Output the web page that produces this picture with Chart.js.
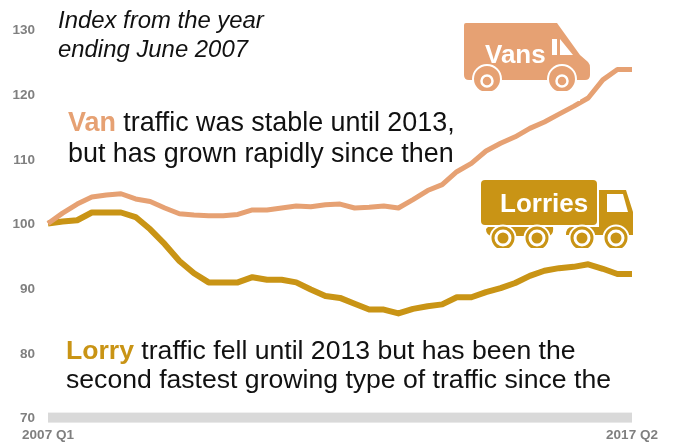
<!DOCTYPE html>
<html>
<head>
<meta charset="utf-8">
<title>Van and lorry traffic</title>
<script src="https://cdn.jsdelivr.net/npm/chart.js@4"></script>
<style>
  html, body { margin: 0; padding: 0; background: #fff; }
  #wrap { position: relative; width: 674px; height: 443px; overflow: hidden; }
  #notes { position: absolute; left: 0; top: 0; pointer-events: none; font-family: "Liberation Sans", Arial, sans-serif; }
  .van-note { font-size: 26.9px; fill: #111; }
  .lorry-note { font-size: 26.6px; fill: #111; }
</style>
</head>
<body>
<div id="wrap">
  <canvas id="traffic" width="674" height="443"></canvas>
  <svg id="notes" width="674" height="443">
    <text x="58" y="28" font-size="23.9" font-style="italic" fill="#111">Index from the year</text>
    <text x="58" y="57" font-size="23.9" font-style="italic" fill="#111">ending June 2007</text>

    <text class="van-note" x="68" y="131"><tspan font-weight="bold" fill="#E6A173">Van</tspan> traffic was stable until 2013,</text>
    <text class="van-note" x="68" y="162">but has grown rapidly since then</text>
    <text class="lorry-note" x="66" y="359"><tspan font-weight="bold" fill="#C99415">Lorry</tspan> traffic fell until 2013 but has been the</text>
    <text class="lorry-note" x="66" y="388">second fastest growing type of traffic since the</text>

    <!-- van icon -->
    <path fill="#E6A173" d="M466 23 H557 L580 55 L588 62 Q590 64 590 68 V75 Q590 80 585 80 H469 Q464 80 464 75 V25 Q464 23 466 23 Z"/>
    <path fill="#fff" d="M552 39 H557 V55 H552 Z M560 39 L573 55 H560 Z"/>
    <g fill="#E6A173" stroke="#fff" stroke-width="2">
      <circle cx="487" cy="79" r="14"/>
      <circle cx="562" cy="79" r="14"/>
    </g>
    <g fill="none" stroke="#fff" stroke-width="2.5">
      <circle cx="487" cy="81" r="5.5"/>
      <circle cx="562" cy="81" r="5.5"/>
    </g>
    <rect x="470" y="91" width="110" height="10" fill="#fff"/>
    <text x="485" y="63" font-size="26" font-weight="bold" fill="#fff">Vans</text>

    <!-- lorry icon -->
    <rect x="481" y="180" width="116" height="45" rx="4" fill="#C99415"/>
    <path fill="#C99415" d="M599 190 H626 L633 212 V235 H566 Q566 227 572 227 H599 Z"/>
    <path fill="#C99415" d="M488 227 H553 Q554 235 548 236 H492 Q486 235 486 229 Z"/>
    <path fill="#fff" d="M607 194 H623 L628 212 H607 Z"/>
    <g fill="#C99415" stroke="#fff" stroke-width="2">
      <circle cx="503" cy="238" r="12.5"/>
      <circle cx="537" cy="238" r="12.5"/>
      <circle cx="582" cy="238" r="12.5"/>
      <circle cx="616" cy="238" r="12.5"/>
    </g>
    <g fill="#C99415" stroke="#fff" stroke-width="3">
      <circle cx="503" cy="238" r="7"/>
      <circle cx="537" cy="238" r="7"/>
      <circle cx="582" cy="238" r="7"/>
      <circle cx="616" cy="238" r="7"/>
    </g>
    <rect x="485" y="248" width="150" height="6" fill="#fff"/>
    <text x="500" y="212" font-size="26" font-weight="bold" fill="#fff">Lorries</text>
  </svg>
</div>

<script>
// 41 rolling-year points, only the two ends are labelled
const categories = ['2007 Q1', ...Array(39).fill(''), '2017 Q2'];

const vanValues = [
  100, 101.6, 103, 104.1, 104.4, 104.6, 103.8, 103.4, 102.4, 101.5,
  101.3, 101.2, 101.2, 101.4, 102.1, 102.1, 102.4, 102.7, 102.6, 102.9,
  103, 102.4, 102.5, 102.7, 102.4, 103.7, 105.1, 106, 108, 109.3,
  111.2, 112.4, 113.4, 114.7, 115.7, 116.9, 118.1, 119.4, 122.2, 123.8,
  123.8
];

const lorryValues = [
  100, 100.3, 100.5, 101.7, 101.7, 101.7, 101, 99.1, 96.8, 94.2,
  92.3, 90.9, 90.9, 90.9, 91.7, 91.3, 91.3, 90.9, 89.8, 88.8,
  88.5, 87.6, 86.7, 86.7, 86.1, 86.8, 87.2, 87.5, 88.6, 88.6,
  89.4, 90, 90.8, 91.9, 92.7, 93.1, 93.3, 93.7, 93, 92.2,
  92.2
];

const VAN_COLOR = '#E6A173';
const LORRY_COLOR = '#C99415';
const TICK_FONT = { family: '"Liberation Sans", Arial, sans-serif', size: 13.5, weight: 'bold' };

// the thick grey bar along the bottom, the axis border would overhang on the left
const baseBar = {
  id: 'baseBar',
  beforeDatasetsDraw(chart) {
    const { ctx, chartArea } = chart;
    ctx.save();
    ctx.fillStyle = '#D9D9D9';
    ctx.fillRect(chartArea.left, chartArea.bottom - 5, chartArea.right - chartArea.left, 10);
    ctx.restore();
  }
};

new Chart('traffic', {
  type: 'line',
  plugins: [baseBar],
  data: {
    labels: categories,
    datasets: [
      { label: 'Vans', data: vanValues, borderColor: VAN_COLOR, borderWidth: 5 },
      { label: 'Lorries', data: lorryValues, borderColor: LORRY_COLOR, borderWidth: 6 }
    ]
  },
  options: {
    responsive: false,
    animation: false,
    layout: { padding: { top: 29.4, right: 42 } },
    elements: {
      point: { radius: 0 },
      line: { tension: 0, borderCapStyle: 'butt', borderJoinStyle: 'round' }
    },
    plugins: {
      legend: { display: false },
      tooltip: { enabled: false }
    },
    scales: {
      x: {
        offset: false,
        grid: { display: false, drawTicks: false },
        border: { display: false },
        ticks: {
          autoSkip: false,
          maxRotation: 0,
          padding: 10,
          color: '#7F7F7F',
          font: TICK_FONT
        },
        afterFit: (scale) => { scale.height = 25.4; }
      },
      y: {
        min: 70,
        max: 130,
        grid: { display: false, drawTicks: false },
        border: { display: false },
        ticks: {
          stepSize: 10,
          padding: 13,
          labelOffset: 1,
          color: '#7F7F7F',
          font: TICK_FONT
        },
        afterFit: (scale) => { scale.width = 48; }
      }
    }
  }
});
</script>
</body>
</html>
